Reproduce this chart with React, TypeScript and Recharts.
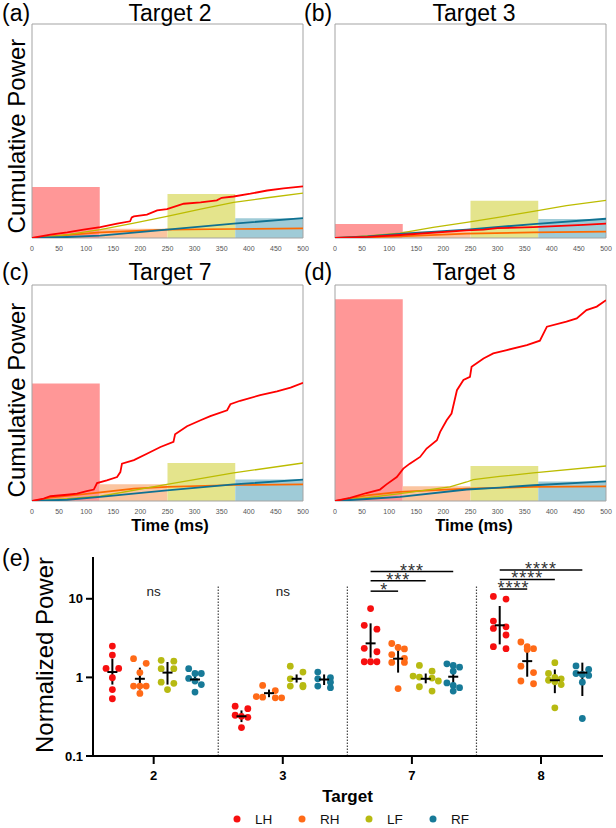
import React from 'react';
import {
  ComposedChart, ScatterChart, Line, Scatter, XAxis, YAxis, ReferenceArea,
  ReferenceLine, ReferenceDot, ErrorBar, Legend,
} from 'recharts';

const FONT = '"Liberation Sans", Arial, Helvetica, sans-serif';

// ---------------- shared ----------------
const LIMBS = ['LH', 'RH', 'LF', 'RF'];
const LINE_COLORS: Record<string, string> = { LH: '#ff0000', RH: '#ff6a00', LF: '#bcbc00', RF: '#0f7192' };
const BAR_COLORS: Record<string, string> = { LH: '#ff9797', RH: '#fbc5a0', LF: '#e4e48c', RF: '#9fcbd7' };
const DOT_COLORS: Record<string, string> = { LH: '#f70f0f', RH: '#ff6a17', LF: '#b7ba12', RF: '#177a98' };
const LINE_WIDTHS: Record<string, number> = { LH: 1.8, RH: 1.7, LF: 1.3, RF: 1.9 };
const BAR_WINDOWS = [[0, 125], [125, 250], [250, 375], [375, 500]];
const TIME_TICKS = [0, 50, 100, 150, 200, 250, 300, 350, 400, 450, 500];

// ---------------- panel (a) Target 2 ----------------
const A_BARS = [23.8, 4.3, 20.6, 9.2];
const A_LH = [[0, 0], [34, 1.6], [65, 2.6], [95, 3.9], [126, 5.1], [157, 6.7], [181, 7.8], [184, 9.6], [188, 10.1], [212, 10.9], [231, 12.9], [249, 13.5], [280, 16.0], [311, 16.6], [341, 17.6], [350, 18.8], [372, 19.4], [403, 20.7], [434, 22.2], [464, 23.2], [500, 24.1]];
const A_RH = [[0, 0], [34, 0.8], [126, 2.6], [249, 3.9], [372, 4.2], [500, 4.5]];
const A_LF = [[0, 0], [30, 0.5], [65, 1.6], [126, 3.9], [188, 7.0], [249, 10.1], [311, 13.5], [372, 16.6], [434, 18.8], [500, 21.0]];
const A_RF = [[0, 0], [65, 0.5], [126, 1.1], [249, 3.9], [372, 6.7], [500, 9.3]];

// ---------------- panel (b) Target 3 ----------------
const B_BARS = [6.5, 3.0, 17.4, 8.9];
const B_LH = [[0, 0], [60, 0.5], [120, 1.4], [243, 3.6], [274, 3.9], [300, 4.6], [366, 5.1], [458, 6.1], [500, 6.7]];
const B_RH = [[0, 0], [60, 0.3], [120, 0.8], [243, 2.0], [366, 2.6], [500, 3.0]];
const B_LF = [[0, 0], [60, 1.0], [120, 2.3], [181, 5.0], [243, 7.3], [304, 9.8], [366, 12.4], [427, 15.1], [500, 17.6]];
const B_RF = [[0, 0], [60, 0.7], [120, 1.9], [243, 3.9], [366, 6.5], [500, 9.0]];

// ---------------- panel (c) Target 7 ----------------
const C_BARS = [54.4, 7.7, 17.6, 9.9];
const C_LH = [[0, 0], [21.5, 1.1], [34, 2.2], [65, 2.9], [83, 3.4], [101, 4.6], [114, 5.3], [120, 8.3], [138, 9.6], [157, 11.1], [163, 13.4], [166, 17.3], [188, 18.9], [212, 21.9], [237, 25.0], [261, 27.4], [264, 30.9], [286, 34.6], [311, 37.4], [329, 39.3], [360, 42.0], [366, 44.8], [384, 46.4], [421, 49.0], [452, 50.8], [477, 52.5], [500, 54.7]];
const C_RH = [[0, 0], [34, 1.5], [126, 4.0], [188, 5.7], [249, 6.5], [372, 7.4], [500, 7.7]];
const C_LF = [[0, 0], [65, 1.1], [126, 2.2], [249, 7.7], [372, 13.0], [500, 17.6]];
const C_RF = [[0, 0], [65, 0.6], [126, 1.9], [249, 4.9], [372, 7.7], [500, 9.9]];

// ---------------- panel (d) Target 8 ----------------
const D_BARS = [93.4, 6.8, 16.2, 9.0];
const D_LH = [[0, 0], [28, 1.5], [58, 3.7], [83, 5.3], [95, 7.7], [114, 11.1], [126, 15.0], [138, 17.3], [157, 20.4], [169, 24.3], [188, 28.1], [194, 32.0], [206, 37.4], [215, 40.5], [225, 51.3], [237, 56.0], [249, 57.5], [252, 62.1], [274, 66.0], [292, 68.3], [317, 69.9], [354, 72.2], [378, 74.2], [391, 80.7], [427, 83.0], [446, 84.5], [464, 88.4], [483, 90.0], [500, 93.0]];
const D_RH = [[0, 0], [58, 2.6], [120, 4.2], [243, 5.7], [366, 6.5], [500, 6.8]];
const D_LF = [[0, 0], [58, 1.5], [120, 3.4], [212, 6.5], [243, 8.8], [255, 9.9], [304, 11.4], [366, 13.0], [500, 16.2]];
const D_RF = [[0, 0], [58, 0.9], [120, 1.9], [243, 5.3], [304, 6.2], [366, 7.3], [500, 9.1]];

// ---------------- panel (e) Normalized power ----------------
const TARGETS = ['2', '3', '7', '8'];
const PTS_LH = [
  [2.5, 1.92, 1.30, 1.30, 0.99, 0.70, 0.535],
  [0.43, 0.40, 0.33, 0.32, 0.31, 0.23],
  [7.5, 4.6, 4.1, 2.34, 2.12, 1.58, 1.58, 1.58],
  [10.7, 9.9, 5.2, 4.4, 4.2, 3.46, 2.46, 2.32],
];
const PTS_RH = [
  [1.73, 1.51, 1.15, 0.775, 0.775, 0.775, 0.625],
  [0.79, 0.68, 0.57, 0.56, 0.55, 0.55],
  [2.7, 2.4, 2.3, 1.95, 1.75, 1.55, 1.55, 0.72],
  [2.82, 2.46, 2.32, 2.27, 1.39, 1.15, 0.9, 0.83],
];
const PTS_LF = [
  [1.65, 1.61, 1.29, 1.29, 0.87, 0.84, 0.70],
  [1.39, 1.17, 0.96, 0.79, 0.775, 0.76],
  [1.42, 1.2, 1.04, 1.01, 0.98, 0.9, 0.76, 0.67],
  [1.54, 1.12, 1.0, 0.96, 0.92, 0.88, 0.81, 0.41],
];
const PTS_RF = [
  [1.29, 1.12, 1.12, 0.97, 0.90, 0.81, 0.65],
  [1.17, 0.99, 0.96, 0.87, 0.775, 0.74],
  [1.49, 1.42, 1.35, 1.2, 0.85, 0.79, 0.74, 0.67],
  [1.40, 1.26, 1.12, 1.09, 1.06, 0.87, 0.30],
];
const MEAN_LH = [1.17, 0.32, 2.71, 4.6];
const LO_LH = [0.81, 0.27, 1.78, 2.63];
const HI_LH = [1.73, 0.38, 4.87, 8.1];
const MEAN_RH = [0.96, 0.63, 1.73, 1.61];
const LO_RH = [0.70, 0.56, 1.15, 1.02];
const HI_RH = [1.33, 0.70, 2.63, 2.27];
const MEAN_LF = [1.15, 0.96, 0.96, 0.92];
const LO_LF = [0.81, 0.86, 0.84, 0.63];
const HI_LF = [1.57, 1.09, 1.12, 1.26];
const MEAN_RF = [0.94, 0.94, 1.02, 1.15];
const LO_RF = [0.84, 0.80, 0.76, 0.58];
const HI_RF = [1.06, 1.09, 1.39, 1.54];

// significance brackets: [target index, compared limb, stars, height value]
const SIG = [
  [2, 'RH', '*', 12.5], [2, 'LF', '***', 16.9], [2, 'RF', '***', 22.2],
  [3, 'RH', '****', 13.3], [3, 'LF', '****', 17.6], [3, 'RF', '****', 23.3],
];
const NS = [[0, 'ns'], [1, 'ns']];

// ---------------- layout helpers ----------------
const GROUP_OFFSET: Record<string, number> = { LH: -0.32, RH: -0.107, LF: 0.107, RF: 0.32 };
const STEP = 0.049;
const ROW_GAP = 0.085;

function swarm(values: number[], center: number) {
  const sorted = [...values].sort((a, b) => b - a);
  const rows: number[][] = [];
  for (const v of sorted) {
    const last = rows[rows.length - 1];
    if (last && Math.log10(last[0]) - Math.log10(v) < ROW_GAP) last.push(v);
    else rows.push([v]);
  }
  const out: { x: number; y: number }[] = [];
  for (const row of rows) {
    const n = row.length;
    row.forEach((v, i) => {
      let k: number;
      if (n % 2 === 1) k = i - (n - 1) / 2;
      else {
        const half = n / 2;
        k = i < half ? -(half - i) : i - half + 1;
      }
      out.push({ x: center + k * STEP, y: v });
    });
  }
  return out;
}

const POINTS: Record<string, number[][]> = { LH: PTS_LH, RH: PTS_RH, LF: PTS_LF, RF: PTS_RF };
const MEANS: Record<string, number[][]> = {
  LH: [MEAN_LH, LO_LH, HI_LH], RH: [MEAN_RH, LO_RH, HI_RH],
  LF: [MEAN_LF, LO_LF, HI_LF], RF: [MEAN_RF, LO_RF, HI_RF],
};

function scatterData(limb: string) {
  return POINTS[limb].flatMap((vals, c) => swarm(vals, c + GROUP_OFFSET[limb]));
}
function meanData(limb: string) {
  const [m, lo, hi] = MEANS[limb];
  return m.map((v, c) => ({ x: c + GROUP_OFFSET[limb], y: v, err: [v - lo[c], hi[c] - v] }));
}

const toObj = (arr: number[][]) => arr.map(([t, v]) => ({ t, v }));

function CumPanel({ left, top, width, height, bars, lines }: any) {
  return (
    <div style={{ position: 'absolute', left: left - 20, top: top - 2 }}>
      <ComposedChart width={width + 35} height={height + 24} margin={{ top: 2, right: 15, bottom: 0, left: 20 }}>
        <XAxis type="number" dataKey="t" domain={[0, 500]} ticks={TIME_TICKS} interval={0}
          tickLine={false} axisLine={false} height={22} allowDataOverflow
          tick={{ fontSize: 7, fill: '#555', fontFamily: FONT }} />
        <YAxis type="number" domain={[0, 100]} hide width={0} allowDataOverflow />
        {bars.map((b: number, i: number) => (
          <ReferenceArea key={'bar' + i} x1={BAR_WINDOWS[i][0]} x2={BAR_WINDOWS[i][1]} y1={0} y2={b}
            fill={BAR_COLORS[LIMBS[i]]} fillOpacity={1} stroke="none" />
        ))}
        <ReferenceArea x1={0} x2={500} y1={0} y2={100} fill="none" stroke="#a3a3a3" strokeWidth={1} />
        {['RH', 'LF', 'RF', 'LH'].map((l) => (
          <Line key={l} data={toObj(lines[l])} dataKey="v" type="linear" stroke={LINE_COLORS[l]}
            strokeWidth={LINE_WIDTHS[l]} dot={false} isAnimationActive={false} />
        ))}
      </ComposedChart>
    </div>
  );
}

const MeanTick = (props: any) => {
  const { cx, cy } = props;
  return <line x1={cx - 5} x2={cx + 5} y1={cy} y2={cy} stroke="#000" strokeWidth={2} />;
};

const makeDot = (color: string) => (props: any) => {
  const { cx, cy } = props;
  return <circle cx={cx} cy={cy} r={3.4} fill={color} />;
};

const starLabel = (text: string) => (props: any) => {
  const vb = props.viewBox || {};
  const cx = vb.x + (vb.width || 0) / 2;
  return (
    <text x={cx} y={vb.y + 5} textAnchor="middle" fontSize={18} fill="#333" fontFamily={FONT}
      letterSpacing={1}>{text}</text>
  );
};

const nsLabel = (text: string) => (props: any) => {
  const vb = props.viewBox || {};
  return (
    <text x={vb.x + (vb.width || 0) / 2} y={vb.y + (vb.height || 0) / 2} textAnchor="middle" fontSize={13.5}
      fill="#222" fontFamily={FONT}>{text}</text>
  );
};

const LegendContent = (props: any) => {
  const items = (props.payload || [])
    .filter((p: any) => LIMBS.includes(p.value))
    .sort((a: any, b: any) => LIMBS.indexOf(a.value) - LIMBS.indexOf(b.value));
  const xs = [237, 302, 369, 433];
  return (
    <svg width={616} height={20}>
      {items.map((p: any, i: number) => (
        <g key={p.value}>
          <circle cx={xs[i]} cy={10} r={3.5} fill={DOT_COLORS[p.value]} />
          <text x={xs[i] + 18} y={15} fontSize={13.5} fill="#111" fontFamily={FONT}>{p.value}</text>
        </g>
      ))}
    </svg>
  );
};

function PowerChart() {
  return (
    <div style={{ position: 'absolute', left: 0, top: 540 }}>
      <ScatterChart width={616} height={288} margin={{ top: 17, right: 13, bottom: 42, left: 0 }}>
        <XAxis type="number" dataKey="x" domain={[-0.47, 3.48]} ticks={[0, 1, 2, 3]} interval={0}
          allowDataOverflow tickFormatter={(i: number) => TARGETS[i]} height={30}
          axisLine={{ stroke: '#000', strokeWidth: 2 }} tickLine={{ stroke: '#000', strokeWidth: 2 }}
          tickSize={8} tickMargin={7}
          tick={{ fontSize: 13, fontWeight: 'bold', fill: '#000', fontFamily: FONT }} />
        <YAxis type="number" dataKey="y" scale="log" domain={[0.1, 34]} ticks={[0.1, 1, 10]} interval={0}
          allowDataOverflow width={93} tickFormatter={(v: number) => String(v)}
          axisLine={{ stroke: '#000', strokeWidth: 2 }} tickLine={{ stroke: '#000', strokeWidth: 2 }}
          tickSize={7} tickMargin={3}
          tick={{ fontSize: 13, fontWeight: 'bold', fill: '#000', fontFamily: FONT }} />
        {[0.5, 1.5, 2.5].map((x) => (
          <ReferenceLine key={'sep' + x} segment={[{ x, y: 0.1 }, { x, y: 14.4 }]}
            stroke="#444" strokeWidth={1.2} strokeDasharray="1.5 1.5" />
        ))}
        {LIMBS.map((l) => (
          <Scatter key={l} name={l} data={scatterData(l)} fill={DOT_COLORS[l]} shape={makeDot(DOT_COLORS[l])}
            isAnimationActive={false} />
        ))}
        {LIMBS.map((l) => (
          <Scatter key={'m' + l} name={'mean ' + l} data={meanData(l)} fill="#000" shape={MeanTick}
            legendType="none" isAnimationActive={false}>
            <ErrorBar dataKey="err" direction="y" width={0} stroke="#000" strokeWidth={2} />
          </Scatter>
        ))}
        {SIG.map(([c, limb, stars, yv]: any, i) => (
          <ReferenceLine key={'sig' + i}
            segment={[{ x: c + GROUP_OFFSET.LH, y: yv }, { x: c + GROUP_OFFSET[limb], y: yv }]}
            stroke="#000" strokeWidth={1.5} label={starLabel(stars)} />
        ))}
        {NS.map(([c, t]: any) => (
          <ReferenceDot key={'ns' + c} x={c} y={10.8} r={0} fill="none" stroke="none" label={nsLabel(t)} />
        ))}
        <Legend layout="horizontal" verticalAlign="middle" align="center" content={LegendContent}
          wrapperStyle={{ position: 'absolute', left: 0, top: 269, width: 616, height: 20 }} />
      </ScatterChart>
    </div>
  );
}

function Texts() {
  const big = { fontFamily: FONT, fontSize: 23, fill: '#000' } as any;
  const ylab = { fontFamily: FONT, fontSize: 24, fill: '#000' } as any;
  const time = { fontFamily: FONT, fontSize: 16.5, fontWeight: 'bold', fill: '#000' } as any;
  return (
    <svg width={616} height={828} style={{ position: 'absolute', left: 0, top: 0, pointerEvents: 'none' }}>
      <text x={2} y={21} {...big}>(a)</text>
      <text x={170} y={21} textAnchor="middle" {...big}>Target 2</text>
      <text x={304} y={21} {...big}>(b)</text>
      <text x={474} y={21} textAnchor="middle" {...big}>Target 3</text>
      <text x={2} y={280} {...big}>(c)</text>
      <text x={170} y={280} textAnchor="middle" {...big}>Target 7</text>
      <text x={304} y={280} {...big}>(d)</text>
      <text x={474} y={280} textAnchor="middle" {...big}>Target 8</text>
      <text transform="translate(25,136) rotate(-90)" textAnchor="middle" {...ylab}>Cumulative Power</text>
      <text transform="translate(25,400) rotate(-90)" textAnchor="middle" {...ylab}>Cumulative Power</text>
      <text x={170} y={531} textAnchor="middle" {...time}>Time (ms)</text>
      <text x={474} y={531} textAnchor="middle" {...time}>Time (ms)</text>
      <text x={2} y={566} {...big}>(e)</text>
      <text transform="translate(53,655) rotate(-90)" textAnchor="middle" {...ylab}>Normalized Power</text>
      <text x={347.5} y={802} textAnchor="middle" fontFamily={FONT} fontSize={17} fontWeight="bold" fill="#000">Target</text>
    </svg>
  );
}

export default function App() {
  return (
    <div style={{ position: 'absolute', left: 0, top: 0, width: 616, height: 828, background: '#fff', fontFamily: FONT }}>
      <CumPanel left={32} top={24} width={271} height={214} bars={A_BARS} lines={{ LH: A_LH, RH: A_RH, LF: A_LF, RF: A_RF }} />
      <CumPanel left={335} top={24} width={271} height={214} bars={B_BARS} lines={{ LH: B_LH, RH: B_RH, LF: B_LF, RF: B_RF }} />
      <CumPanel left={32} top={285} width={271} height={216} bars={C_BARS} lines={{ LH: C_LH, RH: C_RH, LF: C_LF, RF: C_RF }} />
      <CumPanel left={335} top={285} width={271} height={216} bars={D_BARS} lines={{ LH: D_LH, RH: D_RH, LF: D_LF, RF: D_RF }} />
      <PowerChart />
      <Texts />
    </div>
  );
}
